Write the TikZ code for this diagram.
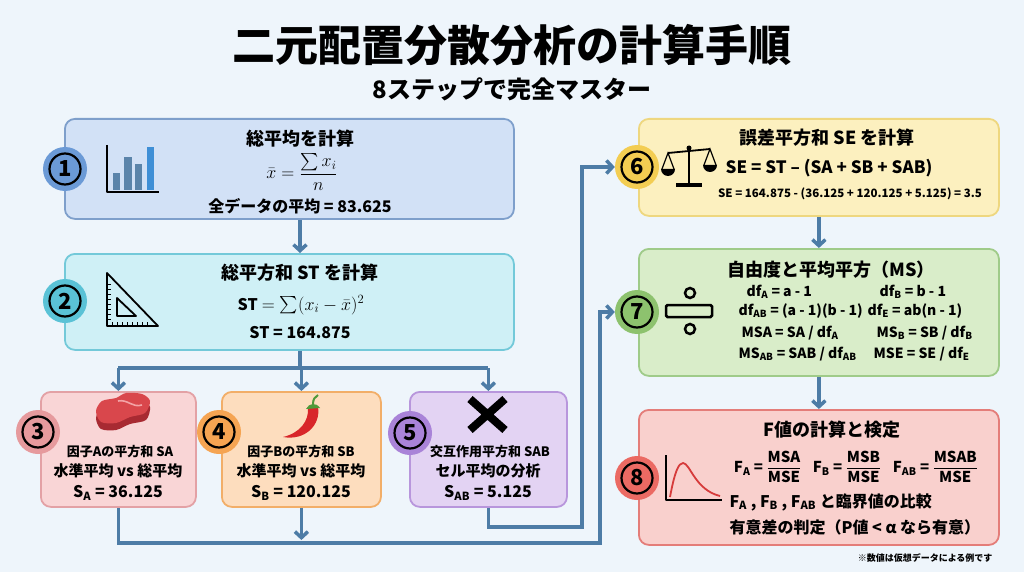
\RequirePackage{fix-cm}
\documentclass[tikz,border=0pt]{standalone}
\usepackage{exscale}
\usepackage{fontspec}
\setmainfont{Noto Sans CJK JP}
\usetikzlibrary{calc}
\usetikzlibrary{arrows.meta}
\usetikzlibrary{positioning}

\definecolor{bgpage}{HTML}{EEF5FB}
\definecolor{linkblue}{HTML}{4D7CA6}
\definecolor{fillA}{HTML}{D2E1F6}\definecolor{lineA}{HTML}{7E9FCB}\definecolor{dotA}{HTML}{6B9AD6}
\definecolor{fillB}{HTML}{CFF0F6}\definecolor{lineB}{HTML}{73C9D9}\definecolor{dotB}{HTML}{5AC2D6}
\definecolor{fillC}{HTML}{F9D5D6}\definecolor{lineC}{HTML}{E3A1A5}\definecolor{dotC}{HTML}{E69A9D}
\definecolor{fillD}{HTML}{FDDDBE}\definecolor{lineD}{HTML}{F2AE68}\definecolor{dotD}{HTML}{F5A452}
\definecolor{fillE}{HTML}{E3D3F3}\definecolor{lineE}{HTML}{B896DC}\definecolor{dotE}{HTML}{A983D8}
\definecolor{fillF}{HTML}{FCF0BF}\definecolor{lineF}{HTML}{EED77F}\definecolor{dotF}{HTML}{F3CD52}
\definecolor{fillG}{HTML}{D9EDC9}\definecolor{lineG}{HTML}{9FCB89}\definecolor{dotG}{HTML}{8DC26E}
\definecolor{fillH}{HTML}{F9D0CD}\definecolor{lineH}{HTML}{E47D79}\definecolor{dotH}{HTML}{EB6A63}
\definecolor{barblue}{HTML}{5B84AA}
\definecolor{barlight}{HTML}{3F8FD6}
\definecolor{meatred}{HTML}{D9474C}
\definecolor{meatdark}{HTML}{A82A32}
\definecolor{meatfat}{HTML}{F3A3A6}
\definecolor{chilired}{HTML}{D8262A}
\definecolor{chiligreen}{HTML}{4E9A3A}
\definecolor{curvered}{HTML}{D63B3B}

\newcommand\fsz[1]{\fontsize{#1}{#1}\selectfont\bfseries}

\begin{document}
\begin{tikzpicture}[x=1pt,y=-1pt,
  conn/.style={draw=linkblue, line width=3.5pt},
  tip/.style={-{Straight Barb[length=6pt,width=13pt]}},
  panel/.style={draw, line width=1.8pt, rounded corners=10pt, anchor=north west, inner sep=0pt},
  badge/.style={circle, minimum size=44pt, inner sep=0pt},
  ring/.style={circle, draw, line width=2.2pt, minimum size=31pt, inner sep=0pt, font=\fsz{22}},
  icon/.style={line width=1.8pt, line join=round}]
\fill[bgpage] (0,0) rectangle (1024,572);

% title
\node[font=\fsz{43}] (title) at (512,45) {二元配置分散分析の計算手順};
\node[font=\fsz{24}] (subtitle) at (512,89) {8ステップで完全マスター};

% panels
\node[panel, draw=lineA, fill=fillA, minimum width=449pt, minimum height=100pt] (b1) at (64,118) {};
\node[panel, draw=lineB, fill=fillB, minimum width=449pt, minimum height=96pt] (b2) at (64,253) {};
\node[panel, draw=lineC, fill=fillC, minimum width=155pt, minimum height=115pt] (b3) at (40,391) {};
\node[panel, draw=lineD, fill=fillD, minimum width=159pt, minimum height=115pt] (b4) at (221,391) {};
\node[panel, draw=lineE, fill=fillE, minimum width=157pt, minimum height=115pt] (b5) at (409,391) {};
\node[panel, draw=lineF, fill=fillF, minimum width=360pt, minimum height=97pt] (b6) at (638,118) {};
\node[panel, draw=lineG, fill=fillG, minimum width=360pt, minimum height=127pt] (b7) at (638,248) {};
\node[panel, draw=lineH, fill=fillH, minimum width=360pt, minimum height=135pt] (b8) at (638,409) {};

% step badges
\foreach \n/\bx/\by/\col in {1/65/169/dotA, 2/65/301/dotB, 3/38/432/dotC, 4/219/432/dotD,
  5/410/433/dotE, 6/637/167/dotF, 7/637/312/dotG, 8/637/478/dotH} {
 \node[badge, fill=\col] (c\n) at (\bx,\by) {};
 \node[ring] (r\n) at (c\n) {\n};
}

% connectors
\coordinate (fork) at (300,368);
\coordinate (merge) at (300,543);
\coordinate (rise7) at (600,543);
\coordinate (rise6) at (582,527);
\draw[conn,tip] (b1.south -| fork) -- (b2.north -| fork);
\draw[conn] (b2.south -| fork) -- (fork);
\draw[conn] (fork -| b3.north) -- (fork -| b5.north);
\foreach \b in {b3,b4,b5}
 \draw[conn,tip] (fork -| \b.north) -- (\b.north);
\draw[conn,tip] (b3.south) |- (rise7) |- (c7.west);
\draw[conn,tip] (b4.south) -- ($(merge -| b4.south)+(0,-3)$);
\draw[conn,tip] (b5.south) |- (rise6) |- (c6.west);
\draw[conn,tip] (b6.south) -- (b7.north);
\draw[conn,tip] (b7.south) -- (b8.north);

% icons
\draw[icon] (107,145) -- (107,192) -- (159,192);
\fill[barblue] (113,173) rectangle (120,190);
\fill[barblue] (124,157) rectangle (132,190);
\fill[barblue] (135,164) rectangle (142,190);
\fill[barlight] (147,147) rectangle (154,190);

\draw[icon] (107,273) -- (107,326) -- (158,326) -- cycle;
\draw[icon] (117,298) -- (117,316) -- (136,316) -- cycle;
\foreach \t in {0,...,7} {
 \draw[line width=0.8pt] (107,284+5*\t) -- ++(4,0);
 \draw[line width=0.8pt] (112+5*\t,326) -- ++(0,-4);
}

\fill[meatdark] plot[smooth cycle] coordinates {(96,418) (102,406) (116,403) (126,398) (142,399) (150,407) (146,420) (130,424) (116,430) (101,429)};
\fill[meatred] plot[smooth cycle] coordinates {(96,411) (102,401) (116,398) (126,393) (142,394) (150,401) (145,413) (130,417) (116,423) (101,422)};
\draw[meatfat, line width=1.6pt] (118,401) .. controls (128,399) and (132,408) .. (142,405);

\fill[chilired] (283,437) .. controls (300,433) and (309,421) .. (308,408) -- (318,407) .. controls (321,425) and (305,441) .. (283,437) -- cycle;
\fill[chiligreen] (306,409) .. controls (309,403) and (316,402) .. (320,408) -- cycle;
\draw[chiligreen, line width=2pt] (313,404) .. controls (313,399) and (315,397) .. (318,395);

\draw[line width=8pt] (470,399) -- (505,430) (505,399) -- (470,430);

\draw[icon] (689,147) -- (689,184);
\draw[line width=4pt] (676,185) -- (702,185);
\draw[icon] (668,153) -- (710,149);
\fill (689,148) circle (2.5);
\draw[line width=1.2pt] (662,169) -- (668,153) -- (674,169) (704,165) -- (710,149) -- (716,165);
\fill (661,169) arc[start angle=180, end angle=0, radius=7] -- cycle;
\fill (703,165) arc[start angle=180, end angle=0, radius=7] -- cycle;

\draw[line width=2.5pt] (690,293) circle (5);
\draw[line width=2.5pt, rounded corners=1.5pt] (666,305) rectangle (712,317);
\draw[line width=2.5pt] (690,329) circle (5);

\draw[icon] (666,455) -- (666,500) -- (722,500);
\draw[curvered, line width=1.8pt] (670,497) .. controls (675,470) and (679,463) .. (683,463) .. controls (690,463) and (695,490) .. (720,496);

% texts
\node[font=\fsz{18}] (h1) at (300,139) {総平均を計算};
\node[font=\fsz{18}, inner sep=0pt] (f1) at (302,172) {$\displaystyle \bar{x} = \frac{\sum x_i}{n}$};
\node[font=\fsz{16}] (v1) at (300,206) {全データの平均 = 83.625};

\node[font=\fsz{18}] (h2) at (300,273) {総平方和 ST を計算};
\node[font=\fsz{18}, inner sep=0pt] (f2) at (301,305) {{\fsz{16}ST} $= \sum (x_i - \bar{x})^2$};
\node[font=\fsz{16}] (v2) at (300,333) {ST = 164.875};

\node[font=\fsz{13}] (h3) at (120,452) {因子Aの平方和 SA};
\node[font=\fsz{15}] (g3) at (118,471) {水準平均 vs 総平均};
\node[font=\fsz{16}] (v3) at (118,493) {S\textsubscript{A} = 36.125};

\node[font=\fsz{13}] (h4) at (301,452) {因子Bの平方和 SB};
\node[font=\fsz{15}] (g4) at (301,471) {水準平均 vs 総平均};
\node[font=\fsz{16}] (v4) at (301,493) {S\textsubscript{B} = 120.125};

\node[font=\fsz{13}] (h5) at (490,452) {交互作用平方和 SAB};
\node[font=\fsz{15}] (g5) at (488,471) {セル平均の分析};
\node[font=\fsz{16}] (v5) at (488,493) {S\textsubscript{AB} = 5.125};

\node[font=\fsz{18}] (h6) at (827,138) {誤差平方和 SE を計算};
\node[font=\fsz{17}] (f6) at (829,168) {SE = ST – (SA + SB + SAB)};
\node[font=\fsz{11.5}] (v6) at (850,194) {SE = 164.875 - (36.125 + 120.125 + 5.125) = 3.5};

\node[font=\fsz{18}] (h7) at (831,270) {自由度と平均平方（MS）};
\node[font=\fsz{14}, anchor=west] (d1) at (743,292) {df\textsubscript{A} = a - 1};
\node[font=\fsz{14}, anchor=west] (d2) at (876,292) {df\textsubscript{B} = b - 1};
\node[font=\fsz{14}, anchor=west] (d3) at (735,311) {df\textsubscript{AB} = (a - 1)(b - 1)};
\node[font=\fsz{14}, anchor=west] (d4) at (864,311) {df\textsubscript{E} = ab(n - 1)};
\node[font=\fsz{14}, anchor=west] (m1) at (738,333) {MSA = SA / df\textsubscript{A}};
\node[font=\fsz{14}, anchor=west] (m2) at (873,333) {MS\textsubscript{B} = SB / df\textsubscript{B}};
\node[font=\fsz{14}, anchor=west] (m3) at (735,354) {MS\textsubscript{AB} = SAB / df\textsubscript{AB}};
\node[font=\fsz{14}, anchor=west] (m4) at (870,354) {MSE = SE / df\textsubscript{E}};

\node[font=\fsz{18}] (h8) at (832,430) {F値の計算と検定};
\node[font=\fsz{15}] (q8) at (856,467) {F\textsubscript{A} = $\displaystyle\frac{\mbox{MSA}}{\mbox{MSE}}$\hspace{8pt}
 F\textsubscript{B} = $\displaystyle\frac{\mbox{MSB}}{\mbox{MSE}}$\hspace{8pt}
 F\textsubscript{AB} = $\displaystyle\frac{\mbox{MSAB}}{\mbox{MSE}}$};
\node[font=\fsz{16}, anchor=west] (k8) at (726,502) {F\textsubscript{A} , F\textsubscript{B} , F\textsubscript{AB} と臨界値の比較};
\node[font=\fsz{16}, anchor=west] (j8) at (726,527) {有意差の判定（P値 < α なら有意）};

\node[font=\fsz{9}, anchor=east] (note) at (996,558) {※数値は仮想データによる例です};
\end{tikzpicture}
\end{document}
